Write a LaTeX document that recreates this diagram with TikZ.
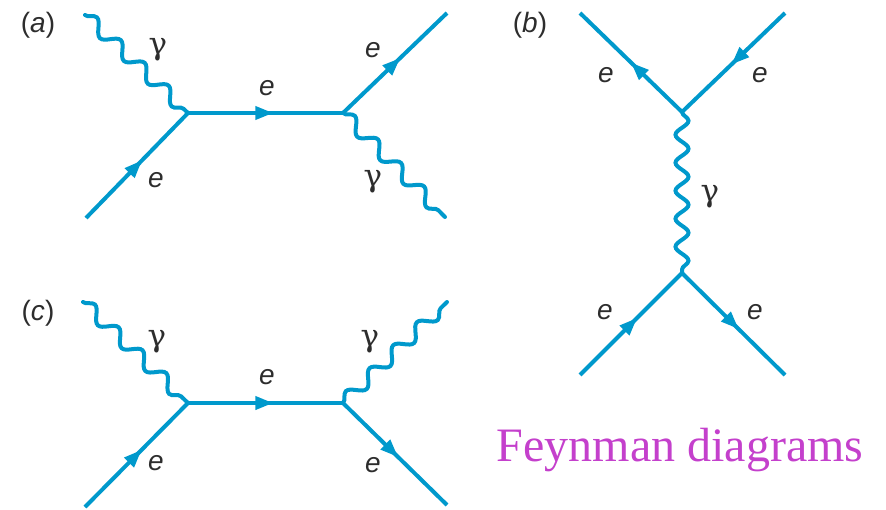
\documentclass[tikz,border=0pt]{standalone}
\usepackage{fontspec}
\setmainfont{Liberation Sans}
\newfontfamily\lserif{Liberation Serif}
\newfontfamily\gfont{DejaVu Serif}
\usetikzlibrary{arrows.meta,decorations.markings,decorations.pathmorphing}
\definecolor{fline}{RGB}{0,153,204}
\definecolor{ftitle}{RGB}{196,64,204}
\definecolor{ftext}{RGB}{45,45,45}
\tikzset{
  fermion/.style={draw=fline,line width=4pt,postaction={decorate},
    decoration={markings,mark=at position #1 with {\arrow[fline]{Triangle[length=18pt,width=13pt]}}}},
  fermion/.default=0.55,
  photon/.style={draw=fline,line width=4pt,line cap=round,decorate,
    decoration={snake,segment length=#1,amplitude=6.5pt}},
  photon/.default=33pt,
  lab/.style={text=ftext,font=\fontsize{28}{28}\selectfont\itshape,inner sep=0pt},
  plab/.style={text=ftext,font=\fontsize{28}{28}\selectfont,inner sep=0pt},
  glab/.style={text=ftext,font=\fontsize{31}{31}\selectfont\gfont,inner sep=0pt},
}
\begin{document}
\begin{tikzpicture}[x=1pt,y=-1pt]
\path[use as bounding box] (0,0) rectangle (886,509);
% ---------- (a)
\coordinate (a1) at (188,113);
\coordinate (a2) at (343,113);
\coordinate (aGin) at (85,15);
\coordinate (aEin) at (86,218);
\coordinate (aEout) at (447,13);
\coordinate (aGout) at (445,217);
\draw[photon] (aGin) -- (a1);
\draw[fermion] (aEin) -- (a1);
\draw[fermion] (a1) -- (a2);
\draw[fermion] (a2) -- (aEout);
\draw[photon] (a2) -- (aGout);
\node[plab] (la) at (38,25) {(\textit{a})};
\node[glab] (ag1) at (158,50) {γ};
\node[lab] (ae1) at (156,180) {e};
\node[lab] (ae2) at (267,88) {e};
\node[lab] (ae3) at (373,50) {e};
\node[glab] (ag2) at (373,182) {γ};
% ---------- (b)
\coordinate (b1) at (682,112);
\coordinate (b2) at (682,273);
\coordinate (bTL) at (580,13);
\coordinate (bTR) at (785,13);
\coordinate (bBL) at (580,375);
\coordinate (bBR) at (785,375);
\draw[fermion=0.5] (b1) -- (bTL);
\draw[fermion=0.52] (bTR) -- (b1);
\draw[photon=28pt] (b1) -- (b2);
\draw[fermion=0.56] (bBL) -- (b2);
\draw[fermion=0.55] (b2) -- (bBR);
\node[plab] (lb) at (530,25) {(\textit{b})};
\node[lab] (be1) at (606,75) {e};
\node[lab] (be2) at (760,75) {e};
\node[glab] (bg) at (710,197) {γ};
\node[lab] (be3) at (605,312) {e};
\node[lab] (be4) at (755,312) {e};
% ---------- (c)
\coordinate (c1) at (188,403);
\coordinate (c2) at (343,403);
\coordinate (cGin) at (83,302);
\coordinate (cEin) at (85,507);
\coordinate (cGout) at (447,302);
\coordinate (cEout) at (447,505);
\draw[photon] (cGin) -- (c1);
\draw[fermion] (cEin) -- (c1);
\draw[fermion] (c1) -- (c2);
\draw[photon] (c2) -- (cGout);
\draw[fermion=0.53] (c2) -- (cEout);
\node[plab] (lc) at (38,313) {(\textit{c})};
\node[glab] (cg1) at (157,342) {γ};
\node[lab] (ce1) at (267,377) {e};
\node[glab] (cg2) at (370,342) {γ};
\node[lab] (ce2) at (156,463) {e};
\node[lab] (ce3) at (373,465) {e};
% ---------- title
\node[text=ftitle,font=\fontsize{48}{48}\selectfont\lserif,anchor=base,inner sep=0pt] (title) at (680,461) {Feynman diagrams};
\end{tikzpicture}
\end{document}
